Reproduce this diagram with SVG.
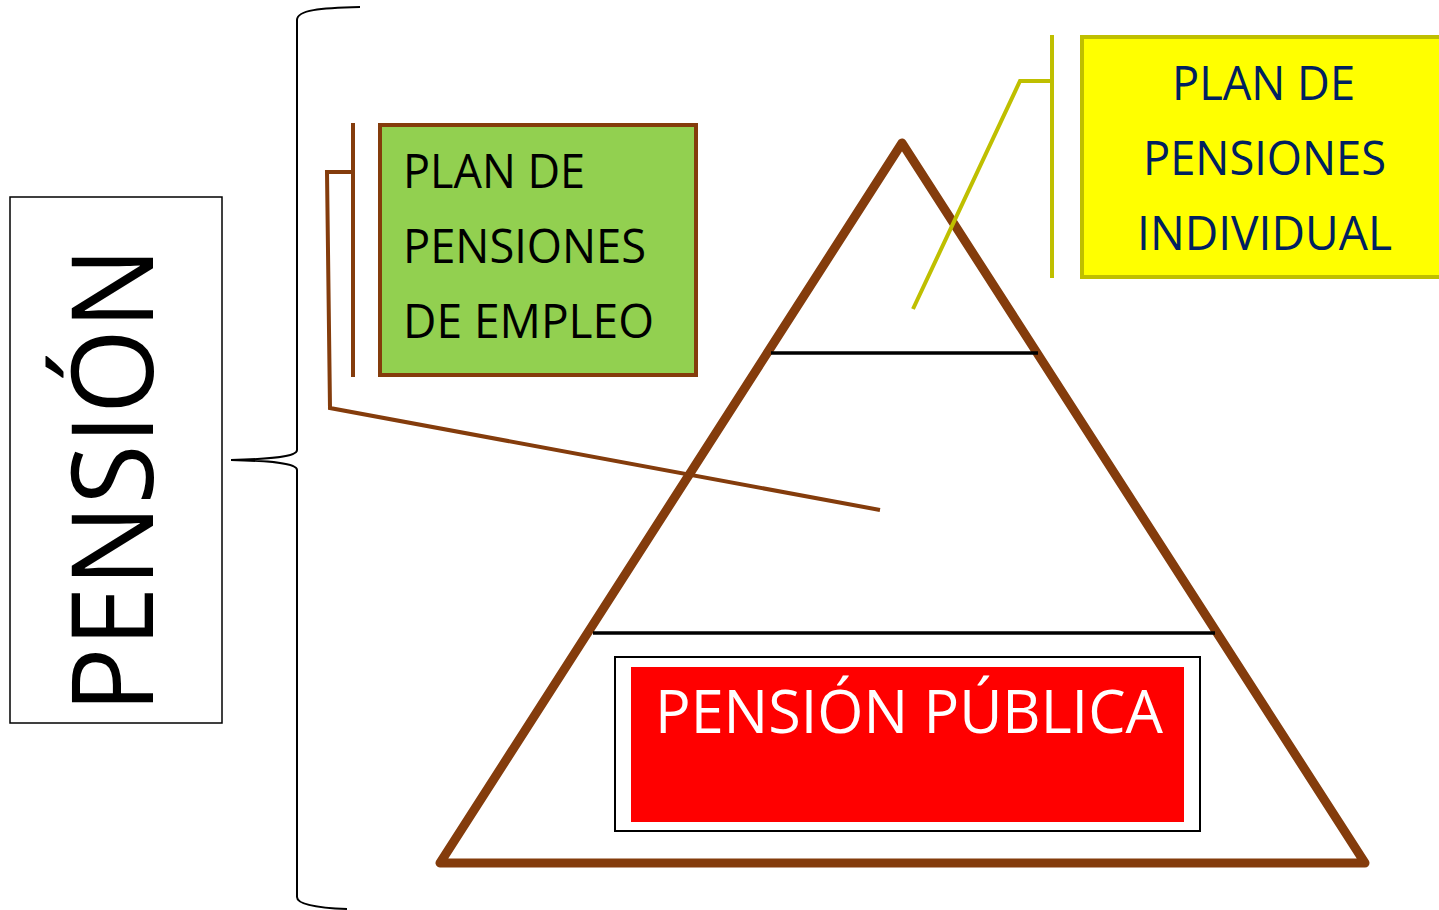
<svg xmlns="http://www.w3.org/2000/svg" width="1439" height="910" viewBox="0 0 1439 910">
<style>
.t{font-family:"Open Sans","Noto Sans","Liberation Sans",sans-serif;}
.brown{stroke:#843C0C;fill:none;}
.olive{stroke:#BFBF00;fill:none;}
</style>
<rect width="1439" height="910" fill="#fff"/>
<g id="pension">
<rect x="10" y="197" width="212" height="526" fill="#fff" stroke="#000" stroke-width="1.5"/>
<text class="t" transform="translate(153,480) rotate(-90)" x="0" y="0" text-anchor="middle" font-size="113" textLength="466" lengthAdjust="spacingAndGlyphs" fill="#000">PENSIÓN</text>
</g>
<g id="brace">
<path d="M360,7 C320,8 297,10 297,20 L297,450 C297,457 270,459 231,460 C270,461 297,463 297,470 L297,897 C297,905 320,908 347,909" fill="none" stroke="#000" stroke-width="2"/>
</g>
<g id="pyramid">
<polygon points="902,143 440,863 1365,863" fill="none" stroke="#843C0C" stroke-width="9" stroke-linejoin="round"/>
<line x1="771" y1="353" x2="1038" y2="353" stroke="#000" stroke-width="3.5"/>
<line x1="593" y1="633" x2="1215" y2="633" stroke="#000" stroke-width="3.5"/>
</g>
<g id="publica">
<rect x="615" y="657" width="585" height="174" fill="#fff" stroke="#000" stroke-width="2"/>
<rect x="631" y="667" width="553" height="155" fill="#FF0000"/>
<text class="t" x="655" y="733" font-size="60" textLength="508" lengthAdjust="spacingAndGlyphs" fill="#fff">PENSIÓN PÚBLICA</text>
</g>
<g id="empleo">
<rect x="380" y="125" width="316" height="250" fill="#92D050" stroke="#843C0C" stroke-width="4"/>
<text class="t" font-size="48" fill="#000">
<tspan x="403" y="188" textLength="182" lengthAdjust="spacingAndGlyphs">PLAN DE</tspan>
<tspan x="403" y="263" textLength="243" lengthAdjust="spacingAndGlyphs">PENSIONES</tspan>
<tspan x="403" y="338" textLength="251" lengthAdjust="spacingAndGlyphs">DE EMPLEO</tspan>
</text>
</g>
<g id="individual">
<rect x="1082" y="37" width="362" height="240" fill="#FFFF00" stroke="#BFBF00" stroke-width="4"/>
<text class="t" font-size="48" fill="#002060">
<tspan x="1172" y="100" textLength="183" lengthAdjust="spacingAndGlyphs">PLAN DE</tspan>
<tspan x="1143" y="175" textLength="243" lengthAdjust="spacingAndGlyphs">PENSIONES</tspan>
<tspan x="1137" y="250" textLength="255" lengthAdjust="spacingAndGlyphs">INDIVIDUAL</tspan>
</text>
</g>
<g id="connectors">
<line class="brown" x1="353" y1="123" x2="353" y2="377" stroke-width="4"/>
<polyline class="brown" points="353,172 327,172 330,408 880,510" stroke-width="4"/>
<line class="olive" x1="1052" y1="35" x2="1052" y2="278" stroke-width="4"/>
<polyline class="olive" points="1052,81 1020,81 913,309" stroke-width="4"/>
</g>
</svg>
